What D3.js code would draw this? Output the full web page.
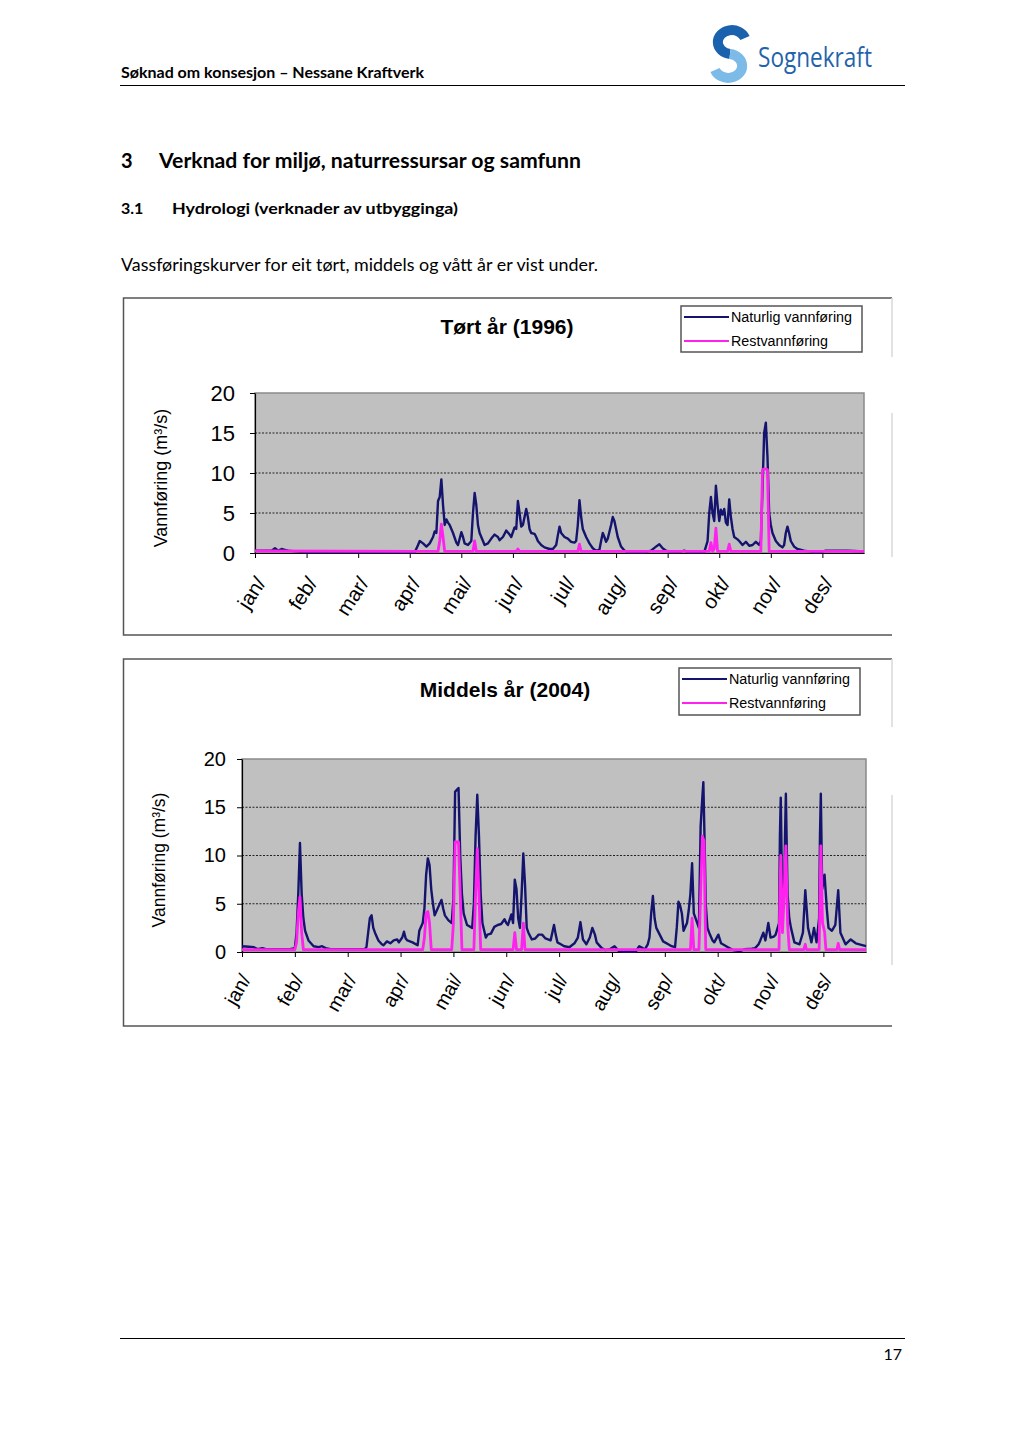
<!DOCTYPE html>
<html><head><meta charset="utf-8">
<script src="https://cdn.jsdelivr.net/npm/d3@7"></script>
<style>body{margin:0;background:#fff}</style>
</head><body><svg id="page" width="1024" height="1449"></svg>
<script>
// ---------------- DATA ----------------
const months = ["jan/","feb/","mar/","apr/","mai/","jun/","jul/","aug/","sep/","okt/","nov/","des/"];
const monthTickDays = [0,31,62,93,124,155,186,217,248,279,310,341];
const yTicks = [0,5,10,15,20];
const legendNames = ["Naturlig vannføring","Restvannføring"];

// Tørt år (1996): [day, m3/s]
const dryNatural = [[0,0.3],[5,0.3],[10,0.3],[12,0.6],[14,0.3],[16,0.5],[18,0.4],[20,0.3],[24,0.2],[30,0.1],[40,0.1],[60,0.1],[80,0.1],[96,0.1],
 [98,1.0],[99,1.5],[101,1.2],[103,0.8],[105,1.2],[107,2.0],[108,2.7],[109,2.5],[110,6.5],[111,7.0],[112,9.2],[113,6.0],[114,3.5],[115,4.2],[116,3.8],
 [117,3.5],[119,2.5],[121,1.3],[122,1.0],[124,2.6],[125,2.0],[126,1.2],[128,1.0],[130,1.5],[131,5.0],[132,7.5],[133,6.0],[134,3.5],[135,2.5],[137,1.5],
 [138,1.0],[140,1.2],[142,1.8],[144,2.3],[146,2.0],[147,1.6],[149,2.0],[151,2.8],[153,2.3],[154,2.0],[156,3.2],[157,3.0],[158,6.5],[159,5.0],[160,3.3],
 [161,3.5],[163,5.5],[164,4.5],[165,3.0],[166,2.5],[168,2.4],[169,2.0],[170,1.5],[172,1.0],[174,0.7],[177,0.5],[179,0.5],[181,1.0],[182,2.2],[183,3.3],
 [184,2.5],[186,2.0],[188,1.8],[190,1.4],[192,1.3],[193,1.5],[194,3.5],[195,6.6],[196,4.5],[197,3.0],[199,2.0],[201,1.2],[203,0.6],[205,0.3],[207,0.4],
 [208,1.5],[209,2.5],[210,2.0],[211,1.4],[212,1.8],[214,3.5],[215,4.5],[216,4.0],[217,3.0],[218,2.0],[220,0.8],[222,0.3],[224,0.1],[235,0.1],[238,0.3],
 [241,0.8],[243,1.1],[245,0.6],[247,0.3],[250,0.1],[255,0.1],[258,0.3],[260,0.1],[270,0.1],[272,1.5],[273,5.0],[274,7.0],[275,5.0],[276,4.0],[277,8.4],
 [278,6.0],[279,4.0],[280,5.4],[281,4.8],[282,5.5],[283,3.8],[284,3.5],[285,6.7],[286,4.5],[287,3.0],[288,2.0],[290,1.7],[291,1.5],[293,1.0],[295,1.4],
 [297,0.9],[299,1.0],[301,1.4],[302,1.2],[303,1.0],[304,1.5],[305,8.0],[306,15.0],[307,16.3],[308,12.0],[309,5.0],[310,3.5],[311,2.5],[313,1.5],[315,1.0],
 [317,0.7],[318,1.0],[319,2.5],[320,3.3],[321,2.5],[322,1.5],[324,0.8],[326,0.5],[330,0.3],[333,0.2],[337,0.05],[340,0.1],[343,0.3],[350,0.3],[356,0.3],
 [360,0.25],[366,0.2]];
const dryResidual = [[0,0.25],[96,0.2],[110,0.2],[111,1.5],[112,3.6],[113,2.0],[114,0.2],[131,0.2],[132,1.5],[133,0.2],[157,0.2],[158,0.5],[159,0.2],
 [194,0.2],[195,1.1],[196,0.2],[273,0.2],[274,1.3],[275,0.2],[276,0.5],[277,3.1],[278,0.2],[284,0.2],[285,1.1],[286,0.2],[304,0.2],[305,10.4],[306,10.5],
 [307,10.5],[308,10.4],[309,0.2],[366,0.2]];

// Middels år (2004): [day, m3/s]
const midNatural = [[0,0.6],[4,0.55],[7,0.5],[9,0.3],[12,0.4],[14,0.3],[28,0.3],[31,0.4],[32,2.0],[33,6.0],[34,11.3],[35,6.0],[36,3.5],[37,2.2],[39,1.2],
 [42,0.6],[45,0.5],[47,0.6],[49,0.4],[52,0.3],[72,0.3],[73,0.5],[74,2.0],[75,3.5],[76,3.8],[77,2.5],[78,2.0],[80,1.2],[82,0.8],[83,0.7],[85,1.1],[87,0.9],
 [89,1.2],[91,1.3],[92,1.0],[94,1.5],[95,2.1],[96,1.4],[97,1.2],[100,1.0],[103,0.7],[104,2.2],[106,3.0],[107,4.5],[108,8.0],[109,9.7],[110,9.0],[111,6.5],
 [112,5.0],[113,3.8],[115,4.6],[117,5.4],[118,4.5],[119,3.8],[121,3.3],[123,3.0],[124,5.5],[125,16.6],[126,16.8],[127,17.0],[128,10.0],[129,6.0],[130,4.0],
 [132,2.8],[135,2.5],[136,5.0],[137,12.0],[138,16.3],[139,12.0],[140,6.0],[141,3.0],[143,1.5],[144,1.8],[146,1.9],[148,2.6],[150,2.8],[152,2.9],[154,3.4],
 [155,3.0],[156,2.8],[158,3.9],[159,3.0],[160,7.5],[161,6.5],[162,3.5],[163,2.5],[164,6.0],[165,10.2],[166,7.0],[167,2.5],[168,2.0],[170,1.3],[172,1.4],
 [174,1.8],[176,1.8],[178,1.4],[181,1.2],[183,2.8],[184,1.8],[185,1.0],[187,0.8],[189,0.6],[192,0.5],[195,0.9],[197,1.5],[198.5,3.1],[200,1.3],[202,0.8],
 [204,1.5],[205.5,2.5],[207,1.8],[208,1.0],[211,0.4],[213,0.2],[216,0.3],[218.5,0.6],[221,0.1],[224,0.05],[231,0.05],[233,0.6],[235,0.4],[236,0.2],[238,0.8],
 [239,1.5],[240,4.0],[241,5.8],[242,3.5],[243,2.5],[245,1.8],[247,1.1],[250,0.8],[252,0.6],[254,0.5],[255,2.5],[256,5.2],[257,4.8],[258,4.0],[259,2.2],
 [261,3.0],[262,4.3],[263,6.0],[264,9.2],[265,4.0],[266,3.5],[268,2.5],[269,13.0],[270,16.0],[270.6,17.6],[271.5,10.0],[272,5.0],[273,2.5],[274,2.0],
 [276,1.2],[277,1.0],[279.4,1.8],[281,0.9],[283,0.7],[285,0.5],[288,0.2],[292,0.1],[295,0.3],[299,0.35],[301,0.4],[303,0.8],[304,1.2],[305.8,2.0],[307,1.2],
 [308.7,3.0],[310,1.5],[312,1.6],[313,1.8],[315,3.0],[315.5,12.0],[316,16.0],[317,4.0],[318,6.0],[318.5,12.0],[319,16.4],[320,6.0],[321,3.5],[322,2.5],
 [324,1.0],[327,0.8],[329,2.0],[330.4,6.4],[332,2.5],[334,1.0],[335.5,2.5],[337,1.0],[338.5,3.5],[339,12.0],[339.5,16.4],[340.3,6.5],[341.7,8.0],[343,4.5],
 [344,2.5],[346,2.2],[348,2.8],[349.7,6.4],[351,2.0],[354,0.8],[357,1.3],[360,0.9],[366,0.6]];
const midResidual = [[0,0.25],[31,0.25],[32,1.0],[33,4.0],[34,5.7],[35,2.0],[36,0.25],[106,0.25],[107,1.5],[108,4.0],[109,4.2],[110,3.0],[111,0.25],
 [123,0.25],[124,3.0],[125,11.4],[126,11.4],[127,11.4],[128,6.0],[129,0.25],[136,0.25],[137,6.0],[138,10.7],[139,6.0],[140,0.25],[159,0.25],[160,2.0],
 [161,0.25],[164,0.25],[165,3.0],[166,0.25],[263,0.25],[264,3.5],[265,0.25],[268,0.25],[269,6.0],[270,12.0],[271,11.5],[272,0.25],[315,0.25],[315.5,6.0],
 [316,10.0],[317,2.0],[318,6.0],[319,11.0],[320,3.0],[321,0.25],[329.5,0.25],[330.4,0.8],[331,0.25],[338.5,0.25],[339.5,11.0],[340.5,3.0],[341.7,2.1],
 [342.5,0.25],[349,0.25],[349.7,0.9],[350.5,0.25],[366,0.25]];

// ---------------- DRAW ----------------
const svg = d3.select("#page");
svg.append("rect").attr("width",1024).attr("height",1449).attr("fill","#fff");
const DOC = "Lato, 'Open Sans', sans-serif";
const ARIAL = "'Liberation Sans', Arial, sans-serif";
const NAVY = "#14146e", PINK = "#ff22ee";

function txt(x,y,s,opt){
  const t = svg.append("text").attr("x",x).attr("y",y).text(s)
    .attr("font-family",opt.family||DOC).attr("font-size",opt.size)
    .attr("font-weight",opt.weight||"normal").attr("fill",opt.fill||"#000");
  if(opt.len) t.attr("textLength",opt.len).attr("lengthAdjust","spacingAndGlyphs");
  if(opt.anchor) t.attr("text-anchor",opt.anchor);
  return t;
}
// header
txt(121,78,"Søknad om konsesjon – Nessane Kraftverk",{size:14.5,weight:"bold",len:303});
svg.append("line").attr("x1",120).attr("x2",905).attr("y1",85.5).attr("y2",85.5).attr("stroke","#000").attr("stroke-width",1);
// logo
const logo = svg.append("g");
logo.append("path").attr("d","M745,38 A14,12 0 1 0 730,54").attr("fill","none").attr("stroke","#1b62ae").attr("stroke-width",10);
logo.append("path").attr("d","M730,54 A14,12 0 1 1 715,70").attr("fill","none").attr("stroke","#7cbbe8").attr("stroke-width",10);
txt(758,67,"Sognekraft",{size:27,family:"'Open Sans', sans-serif",fill:"#1f63ad",len:114});
// headings
txt(121,168,"3",{size:20,weight:"bold"});
txt(159,168,"Verknad for miljø, naturressursar og samfunn",{size:20,weight:"bold",len:422});
txt(121,214,"3.1",{size:16,weight:"bold"});
txt(172,214,"Hydrologi (verknader av utbygginga)",{size:16,weight:"bold",len:286});
txt(121,271,"Vassføringskurver for eit tørt, middels og vått år er vist under.",{size:17,len:477});
// footer
svg.append("line").attr("x1",120).attr("x2",905).attr("y1",1338.5).attr("y2",1338.5).attr("stroke","#000").attr("stroke-width",1);
txt(902,1360,"17",{size:16,anchor:"end"});

function chart(o){
  const g = svg.append("g");
  const fr = o.frame;
  g.append("path").attr("d",`M${fr.r},${fr.t}H${fr.l}V${fr.b}H${fr.r}`).attr("fill","none").attr("stroke","#555").attr("stroke-width",1.5);
  o.rightSegs.forEach(s=>g.append("line").attr("x1",fr.r).attr("x2",fr.r).attr("y1",s[0]).attr("y2",s[1]).attr("stroke","#d8d8d8").attr("stroke-width",1.5));

  const x = d3.scaleLinear().domain([0,366]).range([o.left,o.right]);
  const y = d3.scaleLinear().domain([0,20]).range([o.bottom,o.top]);

  g.append("rect").attr("x",o.left).attr("y",o.top).attr("width",o.right-o.left).attr("height",o.bottom-o.top)
    .attr("fill","#c0c0c0").attr("stroke","#8a8a8a").attr("stroke-width",1.5);
  g.selectAll(".grid").data(yTicks.filter(v=>v>0&&v<20)).join("line")
    .attr("x1",o.left).attr("x2",o.right).attr("y1",d=>y(d)).attr("y2",d=>y(d))
    .attr("stroke","#222").attr("stroke-width",1).attr("stroke-dasharray","2,1.5");

  const ya = g.append("g").attr("transform",`translate(${o.left},0)`)
    .call(d3.axisLeft(y).tickValues(yTicks).tickSize(5).tickSizeOuter(0).tickPadding(o.yPad));
  ya.selectAll("text").attr("font-family",ARIAL).attr("font-size",o.yFont).attr("fill","#000");
  ya.select(".domain").attr("stroke","#000").attr("stroke-width",1.2);
  ya.selectAll(".tick line").attr("stroke","#000");

  const xa = g.append("g").attr("transform",`translate(0,${o.bottom})`)
    .call(d3.axisBottom(x).tickValues(monthTickDays).tickSize(5).tickSizeOuter(0).tickFormat((d,i)=>months[i]));
  xa.select(".domain").attr("stroke","#000").attr("stroke-width",1.2);
  xa.selectAll(".tick line").attr("stroke","#000");
  xa.selectAll("text").attr("font-family",ARIAL).attr("font-size",o.xFont).attr("fill","#000")
    .attr("x",0).attr("y",0).attr("dy","0.35em").attr("text-anchor","end")
    .attr("transform",`translate(${o.xlx},${o.xly}) rotate(${o.xRot})`);

  const line = d3.line().x(d=>x(d[0])).y(d=>y(d[1]));
  g.append("path").datum(o.natural).attr("d",line).attr("fill","none").attr("stroke",NAVY).attr("stroke-width",2.4).attr("stroke-linejoin","round");
  g.append("path").datum(o.residual).attr("d",line).attr("fill","none").attr("stroke",PINK).attr("stroke-width",2.8).attr("stroke-linejoin","round");

  g.append("text").attr("transform",`translate(${o.ytx},${o.yty}) rotate(-90)`).attr("text-anchor","middle")
    .attr("font-family",ARIAL).attr("font-size",o.ytFont).text("Vannføring (m³/s)");
  g.append("text").attr("x",o.titleX).attr("y",o.titleY).attr("text-anchor","middle").attr("font-family",ARIAL)
    .attr("font-weight","bold").attr("font-size",21).text(o.title);
  const L = o.legend;
  g.append("rect").attr("x",L.x).attr("y",L.y).attr("width",L.w).attr("height",L.h).attr("fill","#fff").attr("stroke","#555").attr("stroke-width",1.5);
  [NAVY,PINK].forEach((c,i)=>{
    const yy = L.y + 11 + i*24;
    g.append("line").attr("x1",L.x+3).attr("x2",L.x+48).attr("y1",yy).attr("y2",yy).attr("stroke",c).attr("stroke-width",2);
    g.append("text").attr("x",L.x+50).attr("y",yy).attr("dy","0.35em").attr("font-family",ARIAL).attr("font-size",14)
      .attr("textLength",i===0?121:97).attr("lengthAdjust","spacingAndGlyphs").text(legendNames[i]);
  });
}

chart({frame:{l:123.5,t:298,r:892,b:635}, rightSegs:[[298,357],[413,557]],
  left:255,right:864,top:393,bottom:553, yPad:15, yFont:22, xFont:20.5, xRot:-57, xlx:5, xly:26,
  ytx:167, yty:478, ytFont:18, title:"Tørt år (1996)", titleX:507, titleY:334,
  legend:{x:681,y:306,w:181,h:46}, natural:dryNatural, residual:dryResidual});

chart({frame:{l:123.5,t:659,r:892,b:1026}, rightSegs:[[659,727],[795,965]],
  left:242,right:866,top:759,bottom:952, yPad:11, yFont:20, xFont:19.5, xRot:-60, xlx:3, xly:24,
  ytx:165, yty:860, ytFont:17.5, title:"Middels år (2004)", titleX:505, titleY:697,
  legend:{x:679,y:668,w:181,h:47}, natural:midNatural, residual:midResidual});
</script></body></html>
